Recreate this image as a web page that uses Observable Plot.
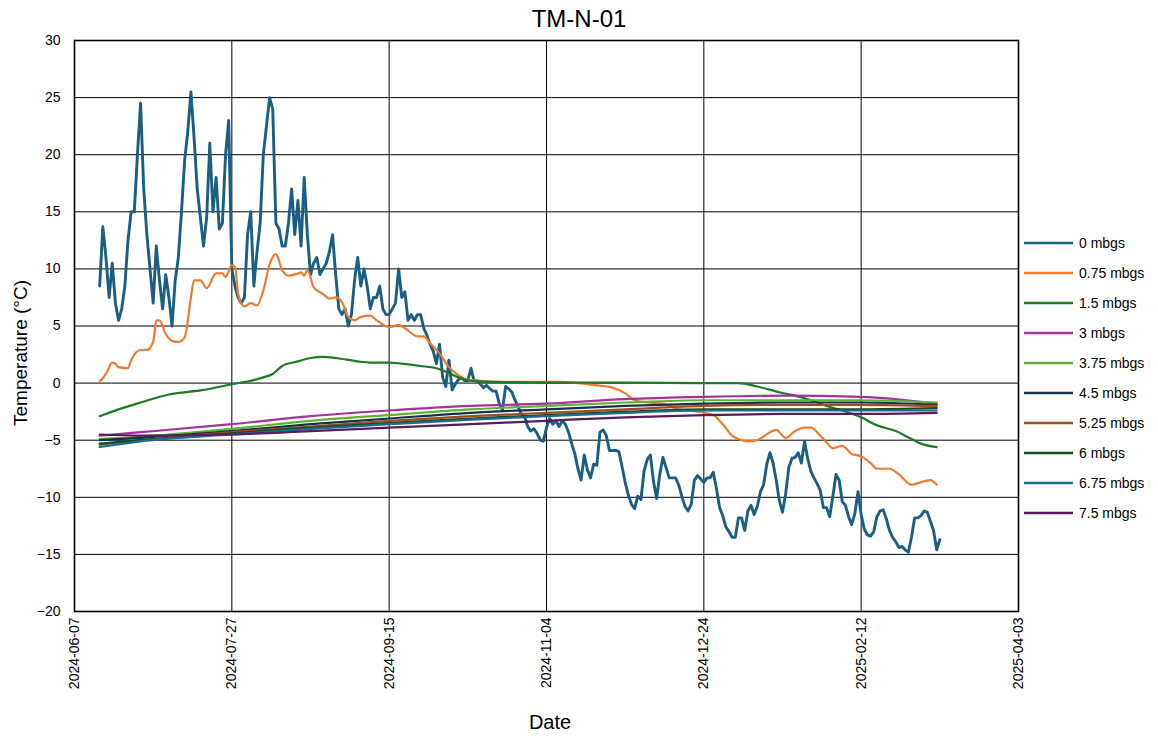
<!DOCTYPE html>
<html><head><meta charset="utf-8">
<script src="https://cdn.jsdelivr.net/npm/d3@7"></script>
<script src="https://cdn.jsdelivr.net/npm/@observablehq/plot@0.6"></script>
<style>
body{margin:0;background:#fff;font-family:"Liberation Sans",Arial,sans-serif;}
#wrap{position:relative;width:1158px;height:738px;overflow:hidden;}
.ov{position:absolute;white-space:nowrap;color:#000;line-height:1;}
#title{left:0;width:1158px;top:7px;text-align:center;font-size:24px;}
#xlab{left:0;width:1100px;top:712px;text-align:center;font-size:20px;}
#ylab{left:20px;top:353px;font-size:19px;transform:translate(-50%,-50%) rotate(-90deg);}
.leg{position:absolute;left:1024px;height:14px;display:flex;align-items:center;font-size:14px;}
.leg span{margin-left:6px;}
</style></head><body><div id="wrap"></div>
<script>
// ---- data ----
const seriesNames = ["0 mbgs","0.75 mbgs","1.5 mbgs","3 mbgs","3.75 mbgs","4.5 mbgs","5.25 mbgs","6 mbgs","6.75 mbgs","7.5 mbgs"];
const seriesColors = ["#1a5e84","#ef7b30","#1f7a26","#a5309f","#5db332","#14324c","#a34c20","#184a22","#1f6a93","#5a1c5c"];
const yTicks = [-20,-15,-10,-5,0,5,10,15,20,25,30];
const xTickLabels = ["2024-06-07","2024-07-27","2024-09-15","2024-11-04","2024-12-24","2025-02-12","2025-04-03"];

// 0 mbgs: daily values from this start date
const surfaceStart = "2024-06-15";
const t0 = [
 8.5,13.7,11,7.5,10.5,7,5.5,6.5,8.5,12.5,
 15,15,20,24.5,17,13,10,7,12,9,
 6.5,9.5,7.5,5,9,11,15,19.5,22,25.5,
 21.5,17,14.5,12,14.5,21,15,18,13.5,14,
 20,23,10,8.5,7.5,7,7.5,13,15,8.5,
 11.5,14,20,22.5,25,24,14,13.5,12,12,
 14,17,13,16,12,18,13,9.5,10.5,11,
 9.5,10,10.5,11.5,13,9.5,6.5,6,6.5,5,
 6,9,11,8.5,10,8.5,6.5,7.5,7.5,8.5,
 6.5,6,6,6.5,7,10,7.5,8,5.5,6,
 5.5,6,6,4.8,4.2,3.4,2.8,1.7,3.4,0.5,
 -0.3,2,-0.6,-0.1,0.3,0.5,0.2,0.2,1.3,0.2,
 0.2,-0.1,-0.4,-0.2,-0.5,-0.7,-0.7,-1.8,-2.4,-0.3,
 -0.5,-0.8,-1.5,-2.1,-2.7,-2.9,-3.8,-4.2,-4,-4.4,
 -5,-5.1,-3.9,-3.1,-3.6,-3.3,-3.8,-3.3,-3.6,-4.3,
 -5.3,-6.2,-7.5,-8.5,-6.3,-7.6,-8.3,-7.1,-7.2,-4.3,
 -4.1,-4.6,-5.9,-5.9,-5.9,-6,-7.3,-8.7,-9.8,-10.6,
 -11,-9.9,-10.2,-7.7,-6.7,-6.3,-8.6,-10.1,-8,-6.5,
 -7.4,-8.3,-8.3,-8.3,-8.9,-9.9,-10.8,-11.2,-10.6,-8.5,
 -8.1,-8.4,-8.7,-8.3,-8.3,-7.8,-9.2,-10.9,-11.6,-12.6,
 -13,-13.5,-13.5,-11.8,-11.8,-12.9,-11.2,-10.7,-11.5,-10.8,
 -9.5,-8.9,-7.1,-6.1,-7,-8.5,-10.3,-11.3,-9.7,-7.4,
 -6.6,-6.5,-6.1,-7,-5.1,-6.6,-7.7,-8.3,-8.8,-9.4,
 -10.9,-10.9,-11.7,-9.9,-8,-8.5,-10.4,-10.7,-11.7,-12.4,
 -11.4,-9.5,-11.5,-12.8,-13.3,-13.4,-13,-11.7,-11.2,-11.1,
 -11.9,-12.9,-13.5,-13.9,-14.4,-14.3,-14.6,-14.8,-13.5,-11.8,
 -11.8,-11.6,-11.2,-11.3,-12.1,-12.9,-14.6,-13.7
];

// 0.75 mbgs
const t075Dates = ["2024-06-15","2024-06-17","2024-06-19","2024-06-20","2024-06-21","2024-06-24","2024-06-25","2024-06-28","2024-06-30","2024-07-02","2024-07-03","2024-07-04","2024-07-06","2024-07-08","2024-07-10","2024-07-12","2024-07-14","2024-07-15","2024-07-17","2024-07-19","2024-07-22","2024-07-24","2024-07-25","2024-07-27","2024-07-28","2024-07-29","2024-07-31","2024-08-02","2024-08-04","2024-08-06","2024-08-08","2024-08-10","2024-08-12","2024-08-14","2024-08-17","2024-08-18","2024-08-19","2024-08-20","2024-08-22","2024-08-25","2024-08-27","2024-08-29","2024-08-31","2024-09-02","2024-09-04","2024-09-06","2024-09-09","2024-09-11","2024-09-15","2024-09-18","2024-09-20","2024-09-24","2024-09-26","2024-09-28","2024-10-01","2024-10-04","2024-10-07","2024-10-10","2024-10-14","2024-10-20","2024-10-29","2024-11-08","2024-11-14","2024-11-20","2024-11-25","2024-11-29","2024-12-02","2024-12-06","2024-12-11","2024-12-16","2024-12-22","2024-12-27","2024-12-30","2025-01-02","2025-01-04","2025-01-07","2025-01-10","2025-01-14","2025-01-16","2025-01-19","2025-01-22","2025-01-25","2025-01-27","2025-01-30","2025-02-01","2025-02-03","2025-02-06","2025-02-09","2025-02-12","2025-02-15","2025-02-17","2025-02-21","2025-02-24","2025-02-28","2025-03-04","2025-03-06","2025-03-08"];
const t075 = [0.1,0.8,1.8,1.7,1.4,1.3,2.0,2.9,2.9,3.6,5.5,5.5,4.3,3.7,3.6,4.0,7.5,9.0,9.0,8.3,9.6,9.6,9.3,10.3,10.2,7.8,6.7,7.0,6.8,8.1,10.4,11.3,9.9,9.4,9.6,9.7,9.4,9.9,8.4,7.8,7.4,7.5,7.1,5.8,5.5,5.8,5.9,5.5,4.9,5.1,4.8,4.1,4.1,3.5,2.6,1.4,0.7,0.3,0.2,0.1,0.1,0.1,0.0,-0.2,-0.4,-0.9,-1.5,-1.7,-1.8,-2.3,-2.5,-2.8,-3.6,-4.6,-4.9,-5.1,-5.0,-4.3,-4.1,-4.8,-4.2,-3.9,-3.9,-4.6,-5.2,-5.7,-5.5,-6.2,-6.4,-7.0,-7.5,-7.5,-8.0,-8.9,-8.6,-8.5,-8.9];

// 1.5 mbgs
const t15Dates = ["2024-06-15","2024-06-21","2024-06-28","2024-07-07","2024-07-18","2024-07-27","2024-08-02","2024-08-06","2024-08-09","2024-08-12","2024-08-17","2024-08-21","2024-08-25","2024-08-29","2024-09-05","2024-09-09","2024-09-15","2024-09-19","2024-09-25","2024-09-30","2024-10-03","2024-10-07","2024-10-11","2024-10-19","2024-11-04","2024-11-29","2024-12-24","2025-01-04","2025-01-10","2025-01-17","2025-01-22","2025-01-27","2025-02-01","2025-02-06","2025-02-12","2025-02-17","2025-02-23","2025-02-28","2025-03-03","2025-03-08"];
const t15 = [-2.9,-2.3,-1.7,-1.0,-0.6,-0.1,0.2,0.5,0.8,1.5,1.9,2.2,2.3,2.2,1.9,1.8,1.8,1.7,1.5,1.3,1.0,0.5,0.2,0.1,0.05,0.05,0.0,0.0,-0.3,-0.8,-1.1,-1.5,-2.0,-2.4,-3.0,-3.7,-4.2,-4.9,-5.3,-5.6];

// deeper sensors
const deepDates = ["2024-06-15","2024-06-28","2024-07-27","2024-08-21","2024-09-15","2024-10-11","2024-11-04","2024-11-29","2024-12-24","2025-01-18","2025-02-12","2025-03-08"];
const t3   = [-4.6,-4.3,-3.6,-2.9,-2.4,-2.0,-1.8,-1.4,-1.2,-1.1,-1.2,-1.8];
const t375 = [-4.9,-4.7,-4.0,-3.3,-2.8,-2.3,-2.0,-1.7,-1.5,-1.5,-1.5,-1.7];
const t45  = [-5.0,-4.8,-4.2,-3.6,-3.1,-2.6,-2.3,-2.0,-1.8,-1.7,-1.7,-1.9];
const t525 = [-5.4,-5.0,-4.3,-3.8,-3.3,-2.9,-2.6,-2.3,-2.0,-1.9,-1.9,-2.0];
const t6   = [-5.3,-5.0,-4.4,-3.9,-3.5,-3.1,-2.8,-2.5,-2.3,-2.3,-2.3,-2.2];
const t675 = [-5.6,-5.1,-4.5,-4.0,-3.6,-3.2,-2.9,-2.6,-2.4,-2.4,-2.4,-2.4];
const t75  = [-4.5,-4.6,-4.5,-4.2,-3.9,-3.6,-3.3,-3.0,-2.8,-2.7,-2.7,-2.6];

// ---- build ----
const parse = s => new Date(s + "T00:00:00Z");
const s0 = parse(surfaceStart);
const series = [
  t0.map((v,i)=>({date:d3.utcDay.offset(s0,i), v})),
  t075.map((v,i)=>({date:parse(t075Dates[i]), v})),
  t15.map((v,i)=>({date:parse(t15Dates[i]), v})),
  ...[t3,t375,t45,t525,t6,t675,t75].map(arr => arr.map((v,i)=>({date:parse(deepDates[i]), v})))
];
const widths = [2.9,2.2,2.2,2.2,2.2,2.2,2.2,2.2,2.2,2.2];
const xTickDates = xTickLabels.map(parse);

const chart = Plot.plot({
  width:1158, height:738,
  marginLeft:74, marginRight:140, marginTop:40, marginBottom:127,
  style:{fontFamily:'"Liberation Sans", Arial, sans-serif', background:"#fff", color:"#000"},
  x:{type:"utc", domain:[xTickDates[0], xTickDates[xTickDates.length-1]]},
  y:{domain:[-20,30]},
  marks:[
    Plot.gridX(xTickDates, {stroke:"#000", strokeOpacity:1, strokeWidth:1}),
    Plot.gridY(yTicks, {stroke:"#000", strokeOpacity:1, strokeWidth:1}),
    ...series.map((data,k)=>Plot.lineY(data, {x:"date", y:"v", stroke:seriesColors[k], strokeWidth:widths[k], curve: k===0 ? "linear" : "monotone-x"})),
    Plot.frame({stroke:"#000", strokeWidth:1.6}),
    Plot.axisX(xTickDates, {tickRotate:-90, tickSize:0, tickPadding:6, fontSize:14, tickFormat:d3.utcFormat("%Y-%m-%d"), label:null}),
    Plot.axisY(yTicks, {tickSize:0, tickPadding:14, fontSize:14, label:null})
  ]
});

const wrap = document.getElementById("wrap");
wrap.appendChild(chart);
const add = (id, text) => { const d = document.createElement("div"); d.className="ov"; d.id=id; d.textContent=text; wrap.appendChild(d); };
add("title","TM-N-01");
add("xlab","Date");
add("ylab","Temperature (°C)");
seriesNames.forEach((name,k)=>{
  const row = document.createElement("div");
  row.className="leg";
  row.style.top = (243 + 30*k - 7) + "px";
  row.innerHTML = `<svg width="49" height="14"><line x1="0" x2="49" y1="7" y2="7" stroke="${seriesColors[k]}" stroke-width="2.6"/></svg><span>${name}</span>`;
  wrap.appendChild(row);
});
</script>
</body></html>
